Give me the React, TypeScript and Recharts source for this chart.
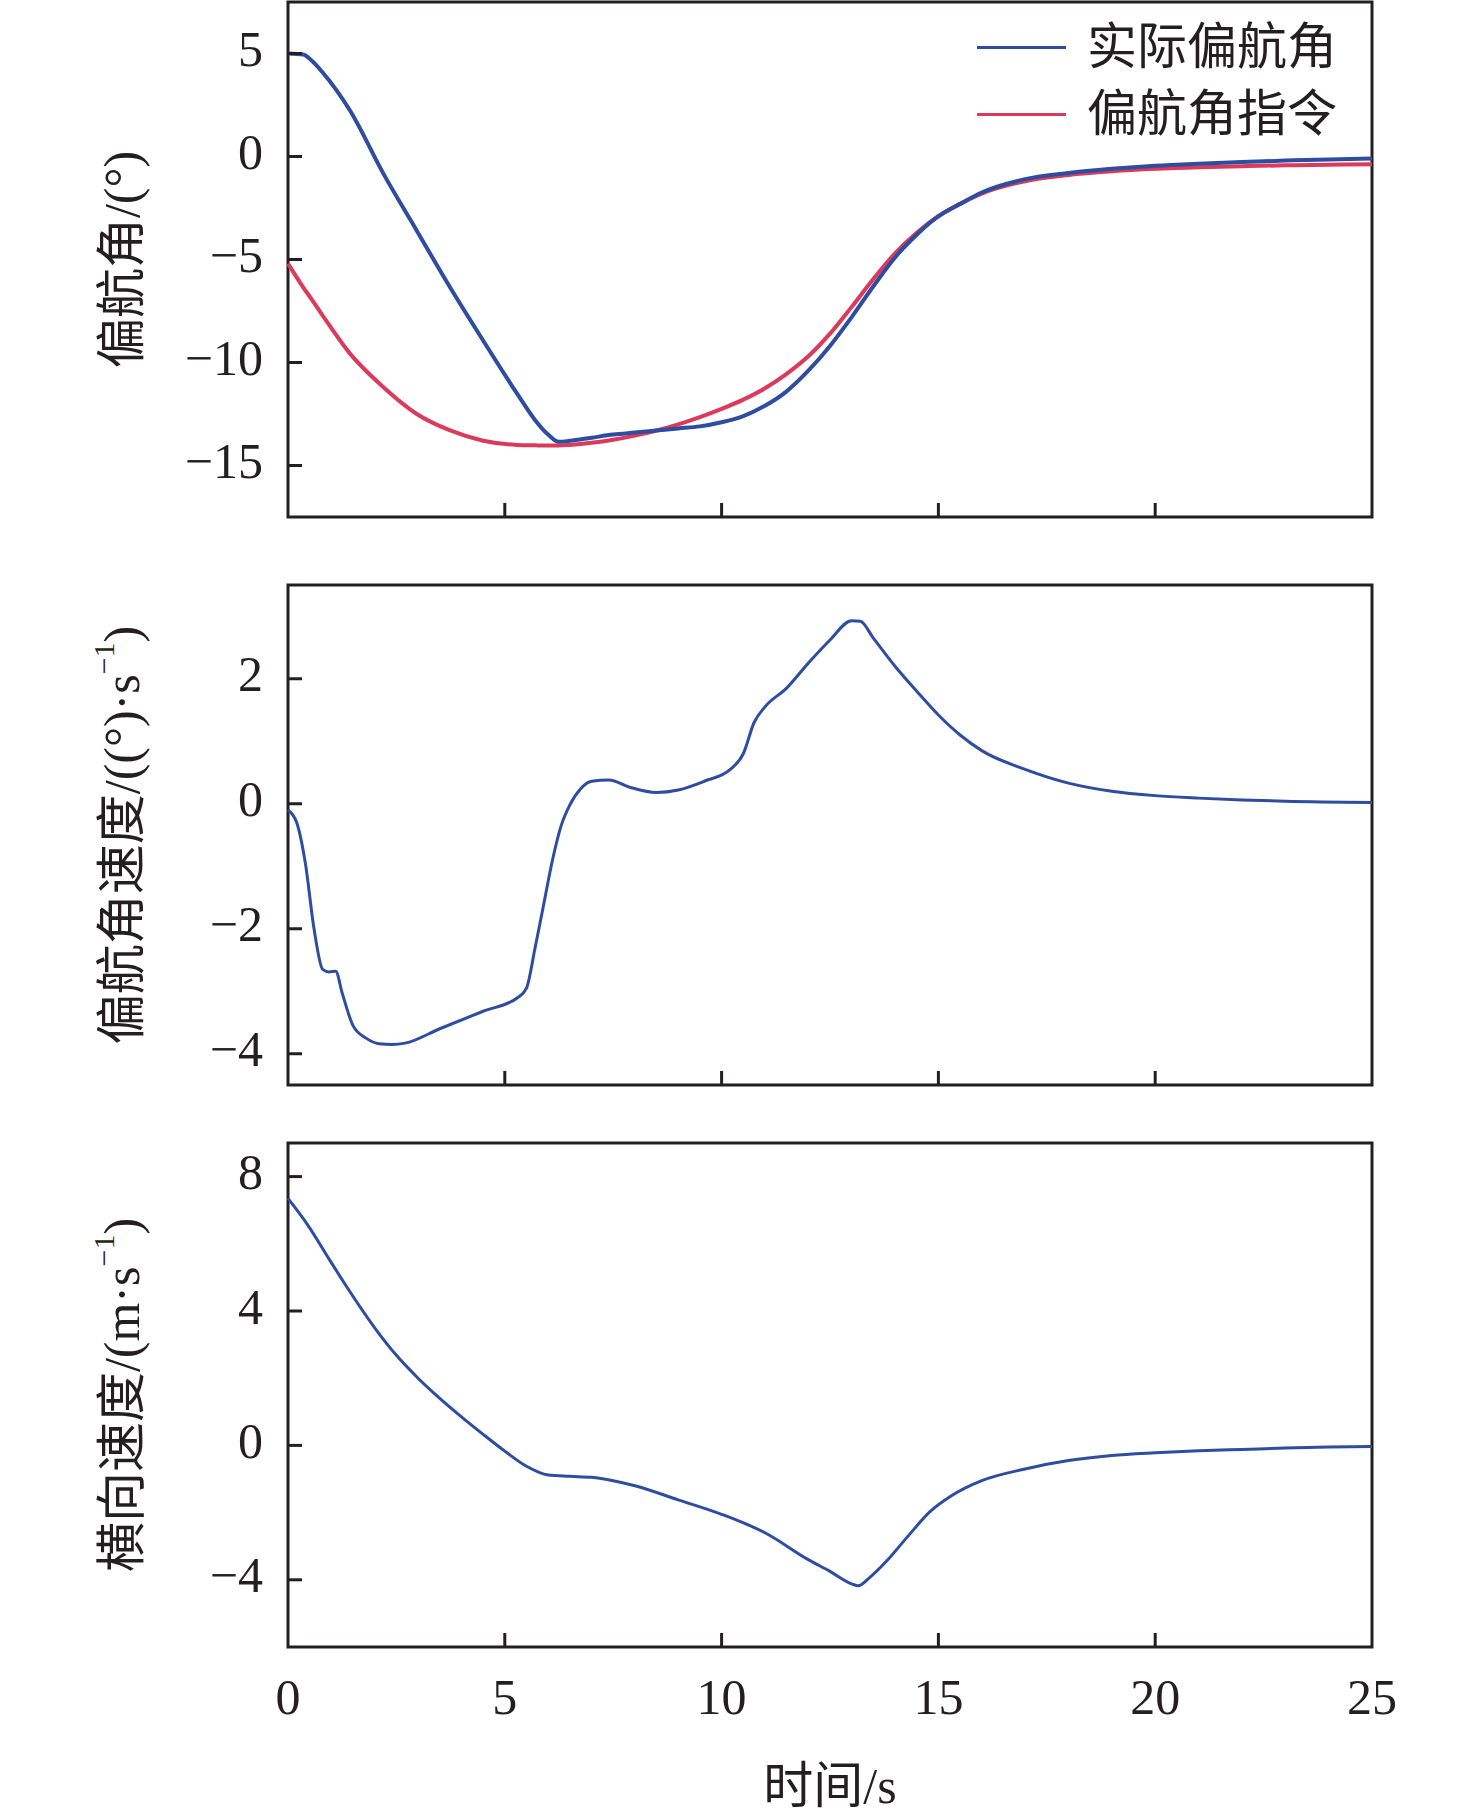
import React from 'react';
import { LineChart, Line, XAxis, YAxis, ReferenceArea, Legend } from 'recharts';

// ---------- data ----------
const T_YAW = [0, 0.35, 0.55, 0.8, 1.43, 2.2, 2.97, 3.74, 4.5, 5.28, 5.7, 6.0, 6.25, 6.5, 7, 7.5, 8, 8.5, 9, 9.5, 10, 10.5, 11, 11.5, 12, 12.5, 13, 13.5, 14, 14.5, 15, 15.5, 16, 17, 18, 19, 20, 21, 22, 23, 24, 25];
const YAW_ACTUAL = [5, 4.95, 4.65, 4.08, 2.23, -0.83, -3.6, -6.36, -8.93, -11.5, -12.8, -13.5, -13.85, -13.8, -13.65, -13.5, -13.4, -13.3, -13.2, -13.1, -12.9, -12.6, -12.1, -11.4, -10.4, -9.2, -7.8, -6.3, -4.9, -3.8, -2.9, -2.3, -1.75, -1.1, -0.8, -0.6, -0.45, -0.35, -0.27, -0.2, -0.14, -0.1];
const YAW_CMD = [-5.2, -6.35, -6.95, -7.72, -9.57, -11.2, -12.5, -13.3, -13.8, -14.0, -14.02, -14.03, -14.03, -14.0, -13.9, -13.75, -13.55, -13.3, -13.0, -12.65, -12.25, -11.8, -11.25, -10.55, -9.7, -8.6, -7.3, -5.95, -4.7, -3.7, -2.9, -2.3, -1.8, -1.2, -0.9, -0.72, -0.6, -0.52, -0.47, -0.43, -0.4, -0.38];

const T_RATE = [0, 0.2, 0.4, 0.6, 0.8, 0.95, 1.1, 1.25, 1.5, 1.8, 2.1, 2.4, 2.7, 3.5, 4.5, 5.3, 5.5, 5.7, 5.9, 6.1, 6.3, 6.5, 6.75, 7.0, 7.4, 7.9, 8.5, 9.0, 9.6, 10.2, 10.5, 10.75, 11.0, 11.5, 12.0, 12.5, 13.0, 13.2, 13.5, 14.0, 14.5, 15.0, 15.5, 16, 17, 18, 19, 20, 21, 22, 23, 25];
const YAW_RATE = [-0.1, -0.3, -0.95, -2.0, -2.65, -2.69, -2.68, -3.03, -3.55, -3.75, -3.84, -3.85, -3.83, -3.6, -3.32, -3.1, -2.95, -2.3, -1.6, -0.9, -0.35, -0.02, 0.24, 0.36, 0.38, 0.26, 0.18, 0.22, 0.36, 0.55, 0.8, 1.3, 1.55, 1.85, 2.25, 2.62, 2.93, 2.92, 2.65, 2.2, 1.8, 1.42, 1.1, 0.85, 0.55, 0.33, 0.2, 0.13, 0.09, 0.06, 0.04, 0.02];

const T_LAT = [0, 0.46, 0.97, 1.38, 2, 2.5, 3, 3.5, 4, 4.5, 5, 5.5, 6, 6.5, 7, 7.5, 8, 9, 10, 11, 12, 12.5, 13, 13.15, 13.4, 13.8, 14.3, 14.8, 15.3, 16, 17, 18, 19, 20, 21, 22, 23, 24, 25];
const LAT_SPEED = [7.35, 6.55, 5.5, 4.67, 3.5, 2.68, 2.0, 1.4, 0.85, 0.33, -0.17, -0.62, -0.88, -0.92, -0.95, -1.05, -1.2, -1.62, -2.05, -2.6, -3.4, -3.75, -4.12, -4.18, -3.95, -3.45, -2.7, -1.98, -1.5, -1.05, -0.7, -0.45, -0.3, -0.22, -0.16, -0.12, -0.08, -0.05, -0.03];

const X_TICKS = [0, 5, 10, 15, 20, 25];
const Y1_TICKS = [-15, -10, -5, 0, 5];
const Y2_TICKS = [-4, -2, 0, 2];
const Y3_TICKS = [-4, 0, 4, 8];
const LEGEND_NAMES = ['实际偏航角', '偏航角指令'];

// ---------- style ----------
const W = 1476;
const INK = '#231f20';
const BLUE = '#2e4da0';
const RED = '#dc3a5a';
const FONT = '"Liberation Serif", "Times New Roman", "Noto Sans CJK SC", serif';
const FS = 50;
const TICK_LEN = 14;
const Y_MARGIN = 25;
const X_MARGIN = 31;
const Y_AXIS_W = 288;
const RIGHT_M = 104;

const fmt = (v: number) => String(v).replace('-', '\u2212');

function YTick(props: any) {
  const { x, y, payload } = props;
  const ax = x + Y_MARGIN;
  return (
    <g>
      <line x1={ax} x2={ax + TICK_LEN} y1={y} y2={y} stroke={INK} strokeWidth={3} />
      <text x={x} y={y} dy="0.25em" textAnchor="end" fontSize={FS} fontFamily={FONT} fill={INK}>
        {fmt(payload.value)}
      </text>
    </g>
  );
}

function makeXTick(showLabel: boolean) {
  return (props: any) => {
    const { x, y, payload } = props;
    const ay = y - X_MARGIN;
    const inner = payload.value !== 0 && payload.value !== 25;
    return (
      <g>
        {inner && <line x1={x} x2={x} y1={ay} y2={ay - TICK_LEN} stroke={INK} strokeWidth={3} />}
        {showLabel && (
          <text x={x} y={y} dy="0.71em" textAnchor="middle" fontSize={FS} fontFamily={FONT} fill={INK}>
            {payload.value}
          </text>
        )}
      </g>
    );
  };
}

function yLabel(parts: React.ReactNode) {
  return {
    content: (p: any) => {
      const vb = p.viewBox || {};
      const cx = (vb.x || 0) + 122;
      const cy = (vb.y || 0) + (vb.height || 0) / 2;
      return (
        <text
          x={cx}
          y={cy}
          transform={`rotate(-90 ${cx} ${cy})`}
          textAnchor="middle"
          dominantBaseline="central"
          fontSize={FS}
          fontFamily={FONT}
          fill={INK}
        >
          {parts}
        </text>
      );
    },
  };
}

const xLabel = {
  content: (p: any) => {
    const vb = p.viewBox || {};
    const cx = (vb.x || 0) + (vb.width || 0) / 2;
    const cy = (vb.y || 0) + 139;
    return (
      <text x={cx} y={cy} textAnchor="middle" dominantBaseline="central" fontSize={FS} fontFamily={FONT} fill={INK}>
        时间/s
      </text>
    );
  },
};

function LegendBox() {
  const colors = [BLUE, RED];
  return (
    <div style={{ fontFamily: FONT, fontSize: FS, color: INK }}>
      {LEGEND_NAMES.map((n, i) => (
        <div key={n} style={{ display: 'flex', alignItems: 'center', height: 67, lineHeight: '67px', whiteSpace: 'nowrap' }}>
          <span style={{ display: 'inline-block', width: 89, height: 3, background: colors[i], marginRight: 21 }} />
          <span>{n}</span>
        </div>
      ))}
    </div>
  );
}

const rows1 = T_YAW.map((t, i) => ({ t, actual: YAW_ACTUAL[i], cmd: YAW_CMD[i] }));
const rows2 = T_RATE.map((t, i) => ({ t, rate: YAW_RATE[i] }));
const rows3 = T_LAT.map((t, i) => ({ t, lat: LAT_SPEED[i] }));

const sup = (
  <>
    <tspan dy={-19} fontSize={30}>−1</tspan>
    <tspan dy={19}>)</tspan>
  </>
);

export default function App() {
  return (
    <div style={{ position: 'absolute', left: 0, top: 0, width: W, height: 1820, background: '#fff' }}>
      {/* Panel 1 */}
      <div style={{ position: 'absolute', left: 0, top: 0 }}>
        <LineChart width={W} height={560} data={rows1} margin={{ top: 2, right: RIGHT_M, left: 0, bottom: 0 }}>
          <XAxis dataKey="t" type="number" domain={[0, 25]} ticks={X_TICKS} interval={0} height={43}
            axisLine={false} tickLine={false} tickSize={0} tickMargin={X_MARGIN} tick={makeXTick(false)} />
          <YAxis type="number" domain={[-17.5, 7.5]} ticks={Y1_TICKS} interval={0} width={Y_AXIS_W}
            axisLine={false} tickLine={false} tickSize={0} tickMargin={Y_MARGIN} tick={YTick}
            label={yLabel(<>偏航角/(°)</>)} />
          <ReferenceArea x1={0} x2={25} y1={-17.5} y2={7.5} fill="none" fillOpacity={0} stroke={INK} strokeWidth={3} ifOverflow="visible" />
          <Line dataKey="cmd" type="monotone" stroke={RED} strokeWidth={4} dot={false} isAnimationActive={false} />
          <Line dataKey="actual" type="monotone" stroke={BLUE} strokeWidth={4} dot={false} isAnimationActive={false} />
          <Legend layout="vertical" align="center" verticalAlign="middle"
            wrapperStyle={{ position: 'absolute', left: 977, top: 14, width: 'auto', height: 'auto' }}
            content={() => <LegendBox />} />
        </LineChart>
      </div>
      {/* Panel 2 */}
      <div style={{ position: 'absolute', left: 0, top: 560 }}>
        <LineChart width={W} height={560} data={rows2} margin={{ top: 25, right: RIGHT_M, left: 0, bottom: 0 }}>
          <XAxis dataKey="t" type="number" domain={[0, 25]} ticks={X_TICKS} interval={0} height={35}
            axisLine={false} tickLine={false} tickSize={0} tickMargin={X_MARGIN} tick={makeXTick(false)} />
          <YAxis type="number" domain={[-4.5, 3.5]} ticks={Y2_TICKS} interval={0} width={Y_AXIS_W}
            axisLine={false} tickLine={false} tickSize={0} tickMargin={Y_MARGIN} tick={YTick}
            label={yLabel(<>偏航角速度/((°)·s{sup}</>)} />
          <ReferenceArea x1={0} x2={25} y1={-4.5} y2={3.5} fill="none" fillOpacity={0} stroke={INK} strokeWidth={3} ifOverflow="visible" />
          <Line dataKey="rate" type="monotone" stroke={BLUE} strokeWidth={3} dot={false} isAnimationActive={false} />
        </LineChart>
      </div>
      {/* Panel 3 */}
      <div style={{ position: 'absolute', left: 0, top: 1120 }}>
        <LineChart width={W} height={700} data={rows3} margin={{ top: 23, right: RIGHT_M, left: 0, bottom: 0 }}>
          <XAxis dataKey="t" type="number" domain={[0, 25]} ticks={X_TICKS} interval={0} height={173}
            axisLine={false} tickLine={false} tickSize={0} tickMargin={X_MARGIN} tick={makeXTick(true)}
            label={xLabel} />
          <YAxis type="number" domain={[-6, 9]} ticks={Y3_TICKS} interval={0} width={Y_AXIS_W}
            axisLine={false} tickLine={false} tickSize={0} tickMargin={Y_MARGIN} tick={YTick}
            label={yLabel(<>横向速度/(m·s{sup}</>)} />
          <ReferenceArea x1={0} x2={25} y1={-6} y2={9} fill="none" fillOpacity={0} stroke={INK} strokeWidth={3} ifOverflow="visible" />
          <Line dataKey="lat" type="monotone" stroke={BLUE} strokeWidth={3} dot={false} isAnimationActive={false} />
        </LineChart>
      </div>
    </div>
  );
}
